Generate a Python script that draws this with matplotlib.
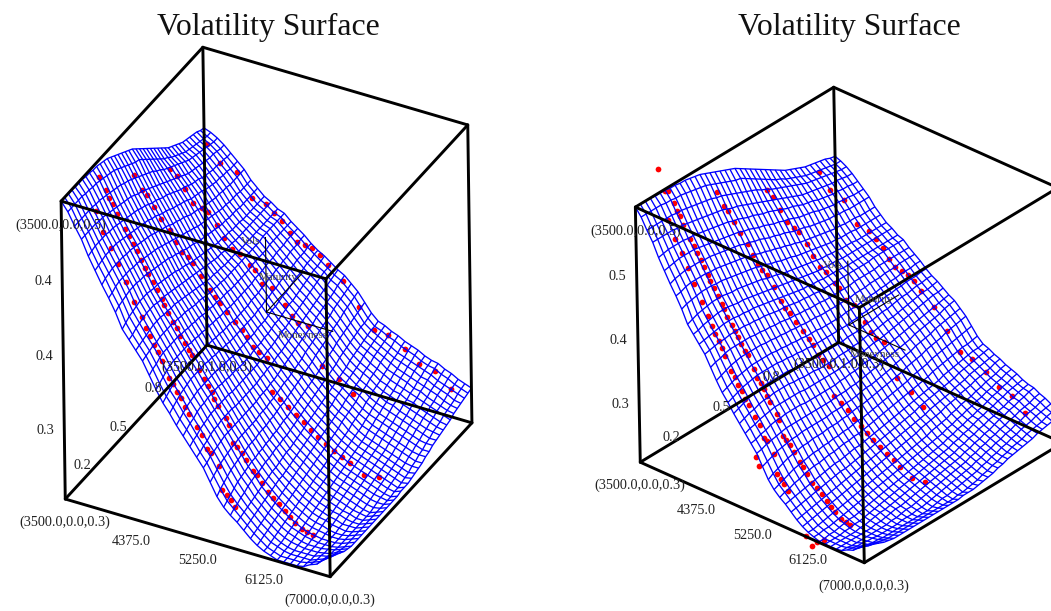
import numpy as np
import matplotlib
matplotlib.use('Agg')
import matplotlib.pyplot as plt
from matplotlib.transforms import offset_copy

plt.rcParams['font.family'] = ['Liberation Serif', 'DejaVu Serif']

# superficie: filas = strike, columnas = maturity (vol x 1000)
surface_vol = [
    [500,500,500,500,499,499,499,498,498,497,497,496,495,494,492,490,488,486,484,482,480,477,474,471,468,465,462,459,456,453,450,448,446,444,442,441,440,439,438,436,435],
    [493,493,493,493,493,492,492,491,491,490,489,488,487,486,484,482,480,478,476,474,473,470,467,464,461,458,455,452,450,447,445,443,441,439,438,437,436,435,434,433,433],
    [483,483,483,483,483,483,482,482,481,480,479,478,477,476,474,473,471,469,467,465,463,461,459,456,454,451,449,447,445,443,441,439,437,436,435,434,433,432,431,430,430],
    [474,474,474,474,474,473,473,472,471,470,469,468,467,466,465,463,461,460,458,456,454,452,450,448,446,444,442,440,438,436,434,433,432,431,430,429,428,428,427,426,426],
    [462,463,464,464,464,464,463,463,462,461,460,459,458,457,456,454,453,451,449,448,446,444,443,441,439,437,435,434,432,430,429,428,426,425,424,423,423,422,422,421,421],
    [452,453,454,455,455,455,455,454,453,452,451,450,449,448,447,446,444,443,441,439,438,436,434,433,431,430,428,426,425,424,423,421,420,419,418,418,417,417,416,416,416],
    [442,444,445,446,446,446,446,445,445,444,443,442,441,440,439,437,436,434,433,431,429,428,426,425,423,421,420,419,417,416,415,414,413,413,412,412,411,411,411,411,411],
    [433,434,436,437,437,437,437,436,436,435,434,433,432,431,430,428,427,425,424,422,421,419,418,416,415,413,412,411,410,409,408,407,406,406,405,405,405,404,404,404,404],
    [423,425,426,427,428,428,428,427,427,426,425,424,423,422,421,420,418,417,415,414,412,411,410,408,407,406,405,404,403,402,401,401,400,400,400,399,399,399,399,399,399],
    [411,413,415,416,417,418,418,418,417,416,416,415,414,413,412,411,409,408,407,405,404,403,402,401,400,399,398,397,397,396,396,395,395,395,394,394,394,394,394,394,394],
    [404,405,407,408,409,410,410,410,409,408,408,407,406,405,404,403,402,401,400,399,398,397,396,395,394,393,393,392,392,392,391,391,391,391,391,391,391,391,391,391,391],
    [397,398,399,400,401,402,402,402,401,401,400,400,399,398,397,396,395,394,393,392,391,390,390,389,389,388,388,388,388,387,387,387,387,387,387,387,387,387,387,387,387],
    [390,391,392,393,393,394,394,394,394,393,393,392,392,391,390,389,389,388,387,386,386,385,385,384,384,384,384,384,384,384,384,384,384,384,385,385,385,385,385,385,385],
    [380,382,383,385,386,386,386,386,386,385,385,384,384,383,383,382,381,381,380,380,379,379,379,378,378,378,378,378,378,379,379,379,379,379,380,380,380,380,380,380,380],
    [370,372,374,376,377,378,378,378,378,378,377,377,376,376,375,375,374,374,373,373,373,372,372,372,372,372,372,372,373,373,373,374,374,374,375,375,375,376,376,376,376],
    [361,363,365,367,368,369,370,370,370,370,370,369,369,368,368,367,367,366,366,366,365,365,365,365,365,366,366,366,367,367,368,368,369,369,370,370,371,371,371,372,372],
    [354,356,358,360,361,362,363,363,363,363,363,362,362,361,361,360,360,359,359,359,359,359,359,359,359,360,360,361,361,362,362,363,364,364,365,365,366,366,366,367,367],
    [346,348,350,352,353,354,355,355,355,355,355,355,354,354,353,353,352,352,352,352,352,352,352,353,353,353,354,355,355,356,357,357,358,359,360,360,361,362,362,363,363],
    [339,341,343,344,346,347,347,348,348,348,348,347,347,346,346,346,345,345,345,345,346,346,346,347,347,348,349,349,350,351,352,352,353,354,355,356,357,358,358,359,360],
    [332,334,335,337,338,339,340,340,340,340,340,340,339,339,339,339,339,339,339,339,340,340,341,341,342,343,344,344,345,346,347,348,349,350,351,352,353,354,355,355,356],
    [325,326,328,329,331,332,332,333,333,333,333,332,332,332,332,332,332,332,333,333,334,334,335,336,336,337,338,339,340,341,342,343,344,345,346,347,348,349,350,351,352],
    [318,319,321,322,323,324,325,325,325,325,325,325,325,325,325,325,326,326,326,327,327,328,329,330,331,332,333,334,335,336,337,338,340,341,342,343,344,345,347,348,349],
    [308,310,312,314,315,316,317,317,318,318,318,318,318,318,319,319,319,320,320,321,322,323,323,324,325,326,327,329,330,331,332,334,335,336,337,339,340,341,342,343,344],
    [298,301,303,305,307,308,309,310,310,311,311,311,312,312,312,313,313,314,315,315,316,317,318,319,320,321,322,323,325,326,327,328,330,331,332,333,335,336,337,338,339],
    [291,293,295,297,299,300,301,302,303,303,304,304,305,305,306,306,307,308,308,309,310,311,312,313,314,315,316,317,319,320,321,322,324,325,326,327,328,329,330,331,332],
    [286,288,289,291,292,294,295,296,296,297,298,298,299,300,300,301,301,302,303,304,305,306,307,308,309,310,311,312,313,314,315,317,318,319,320,321,322,323,323,324,325],
    [282,283,284,285,286,287,288,289,290,291,292,292,293,294,295,295,296,297,298,299,300,301,302,303,304,305,306,307,308,309,310,311,313,314,315,316,317,318,319,319,320],
    [277,278,279,280,281,282,283,284,285,286,287,287,288,289,290,291,292,293,294,295,296,297,298,299,300,301,303,304,305,306,307,308,309,310,312,313,314,315,316,317,318],
    [272,273,274,275,276,277,278,279,280,281,282,283,284,285,286,287,288,289,290,291,292,293,294,295,296,297,298,300,301,302,303,304,306,307,308,310,311,312,313,314,315],
    [268,269,270,271,272,273,274,275,276,277,278,279,280,281,282,283,284,285,286,287,288,289,290,291,293,294,295,296,297,299,300,301,303,304,305,307,308,309,310,312,313],
    [265,265,266,267,268,269,270,271,272,273,274,275,276,277,278,279,280,281,282,283,284,285,286,287,288,290,291,292,293,295,296,298,299,300,302,303,305,306,307,309,310],
    [263,263,264,264,265,266,267,268,269,270,271,272,273,274,275,276,277,278,279,280,281,282,283,284,285,286,287,289,290,292,293,295,296,298,299,301,302,304,305,307,308],
    [261,261,262,262,263,264,265,265,266,267,268,269,270,271,272,273,274,275,276,277,278,279,280,281,282,283,285,286,288,289,291,292,294,295,297,299,300,302,303,305,306],
    [261,261,261,261,262,262,263,263,264,265,266,267,268,269,270,271,272,273,274,275,276,277,278,279,280,281,283,284,286,287,289,291,292,294,295,297,298,300,301,302,303],
    [261,261,261,261,261,261,262,262,263,264,265,265,266,267,268,269,270,271,272,273,274,275,276,277,278,279,281,282,284,285,287,288,290,291,293,294,296,297,299,300,301],
    [261,261,261,261,261,261,261,261,262,262,263,264,265,265,266,267,268,269,270,271,272,273,274,275,276,277,279,280,282,283,285,286,288,290,291,293,294,296,297,299,300],
    [262,262,261,261,261,261,261,261,261,261,262,262,263,264,264,265,266,267,268,269,270,271,272,273,274,275,277,278,280,281,283,284,286,287,289,290,292,293,294,296,297],
    [265,264,263,263,262,262,261,261,261,261,261,262,262,262,263,263,264,265,266,267,268,269,270,271,272,273,275,276,278,279,281,282,284,285,287,288,290,291,292,294,295],
    [267,266,265,264,263,263,262,262,262,262,262,262,262,262,262,262,263,264,265,265,266,267,268,269,270,271,273,274,276,277,279,280,282,283,285,286,287,289,290,291,292],
    [272,270,268,267,266,265,264,264,264,264,264,264,264,264,264,264,264,264,264,264,265,265,266,267,268,270,271,273,274,276,277,279,280,281,283,284,285,286,288,289,290],
    [277,274,272,270,268,267,266,266,266,266,266,266,266,266,266,266,266,266,266,266,267,267,267,268,269,270,271,273,274,276,277,278,279,280,281,283,284,285,286,287,288],
]

# puntos de mercado por maturity (strike, vol x 1000)
mat_a2 = 0.05
strikes_a2 = [3860, 3955, 4064, 4148, 4249, 4358, 4459, 4512, 4557, 4613, 4666, 4715, 4806, 4858, 4911, 4963, 5012, 5065, 5166, 5233, 5296, 5348, 5453, 5488, 5551, 5607, 5660]
vols_a2 = [492, 477, 466, 455, 442, 428, 418, 410, 404, 398, 393, 387, 375, 371, 365, 361, 355, 350, 342, 336, 326, 324, 315, 297, 294, 291, 286]
mat_a = 0.01
strikes_a = [3990, 4081, 4116, 4165, 4218, 4326, 4379, 4428, 4480, 4533, 4585, 4624, 4690, 4739, 4806, 4830, 4879, 4949, 4998, 5040, 5093, 5145, 5191, 5285, 5338, 5390, 5443, 5478, 5530, 5635, 5670, 5723, 5772, 5835, 5891, 5978, 6027, 6094, 6174, 6241, 6318, 6395, 6461, 6528, 6619, 6685, 6762]
vols_a = [527, 518, 512, 508, 501, 491, 486, 481, 476, 470, 464, 460, 455, 449, 443, 439, 433, 427, 423, 418, 413, 408, 405, 395, 388, 384, 380, 375, 370, 362, 357, 344, 341, 338, 333, 326, 323, 318, 312, 309, 305, 301, 297, 294, 290, 289, 288]
mat_b = 0.25
strikes_b = [3994, 4102, 4165, 4256, 4347, 4466, 4543, 4617, 4690, 4764, 4862, 4984, 5044, 5110, 5205, 5310, 5401, 5467, 5548, 5614, 5719, 5782, 5887, 5992, 6097, 6202, 6297, 6388, 6493, 6601, 6703, 6808, 6993, 7186]
vols_b = [499, 489, 486, 478, 470, 463, 455, 448, 445, 442, 433, 424, 419, 416, 410, 404, 399, 395, 388, 385, 382, 356, 352, 348, 343, 339, 335, 331, 327, 323, 320, 317, 311, 313]
mat_c = 0.505
strikes_c = [3983, 4074, 4179, 4284, 4403, 4480, 4596, 4687, 4792, 4893, 5026, 5093, 5187, 5320, 5488, 5579, 5653, 5782, 5971, 6185, 6370]
vols_c = [472, 468, 459, 450, 448, 446, 438, 429, 422, 420, 413, 410, 401, 400, 389, 382, 378, 378, 349, 342, 333]
mat_d = 0.76
strikes_d = [3994, 4162, 4386, 4582, 4767, 4872, 4981, 5075, 5170, 5275, 5366, 5471, 5572, 5768, 5978, 6171, 6356, 6580, 6766, 6976, 7182]
vols_d = [461, 448, 445, 428, 426, 421, 416, 408, 403, 402, 401, 398, 391, 382, 365, 350, 349, 342, 333, 331, 320]

# solo en el panel derecho
strikes_out = [3868, 3973, 5320, 5369, 6083, 6178, 6265, 6370]
vols_out = [546, 528, 314, 307, 260, 254, 260, 264]

x_labels = ['4375.0', '5250.0', '6125.0']
y_labels = ['0.2', '0.5', '0.8']
z_labels_left = ['0.3', '0.4', '0.4']
z_labels_right = ['0.3', '0.4', '0.5']

X0, X1 = 3500, 7000
Y0, Y1 = 0, 1
Z0, Z1 = 0.26, 0.50
W = 800

fig = plt.figure(figsize=(10.51, 6.11), dpi=100)


def label(ax, x, y, z, s, dx, dy, **kw):
    tr = offset_copy(ax.transData, fig=fig, x=dx, y=dy, units='dots')
    ax.text(x, y, z, s, transform=tr, ha=kw.pop('ha', 'center'), va='center', zdir=None,
            fontsize=kw.pop('fontsize', 10.3), color=kw.pop('color', '#222222'), zorder=4, **kw)


def panel(cx, cy, elev, azim, roll, aspect, zoom, z_labels, outliers):
    rect = [(cx - 0.5135 * W) / 1051, (611 - cy - 0.5135 * W) / 611, W / 1051, W / 611]
    ax = fig.add_axes(rect, projection='3d', computed_zorder=False)
    ax.set_proj_type('ortho')
    ax.view_init(elev=elev, azim=azim, roll=roll)
    ax.set_box_aspect(aspect, zoom=zoom)
    ax.set_xlim(X0, X1, view_margin=0)
    ax.set_ylim(Y0, Y1, view_margin=0)
    ax.set_zlim(Z0, Z1, view_margin=0)
    ax.set_axis_off()
    ax.patch.set_alpha(0)

    vols = np.array(surface_vol) / 1000
    strikes = np.linspace(X0, X1, vols.shape[0])
    mats = np.linspace(Y0, Y1, vols.shape[1])
    S, M = np.meshgrid(strikes, mats, indexing='ij')
    ax.plot_wireframe(S, M, vols, rstride=1, cstride=1, color='#0000ff', linewidth=0.95, zorder=2)

    for m, st, vl in [(mat_a2, strikes_a2, vols_a2), (mat_a, strikes_a, vols_a), (mat_b, strikes_b, vols_b),
                      (mat_c, strikes_c, vols_c), (mat_d, strikes_d, vols_d)]:
        ax.scatter(st, [m] * len(st), np.array(vl) / 1000, s=17, c='#ff0000', linewidths=0, depthshade=False, zorder=1)
    if outliers:
        ax.scatter(strikes_out, [0] * len(strikes_out), np.array(vols_out) / 1000, s=17, c='#ff0000',
                   linewidths=0, depthshade=False, zorder=1)

    # caja
    edges = [((X0, X1), (Y0, Y0), (Z0, Z0)), ((X0, X1), (Y1, Y1), (Z0, Z0)), ((X0, X0), (Y0, Y1), (Z0, Z0)),
             ((X1, X1), (Y0, Y1), (Z0, Z0)), ((X0, X1), (Y0, Y0), (Z1, Z1)), ((X0, X1), (Y1, Y1), (Z1, Z1)),
             ((X0, X0), (Y0, Y1), (Z1, Z1)), ((X1, X1), (Y0, Y1), (Z1, Z1)), ((X0, X0), (Y0, Y0), (Z0, Z1)),
             ((X1, X1), (Y0, Y0), (Z0, Z1)), ((X0, X0), (Y1, Y1), (Z0, Z1)), ((X1, X1), (Y1, Y1), (Z0, Z1))]
    for ex, ey, ez in edges:
        ax.plot(ex, ey, ez, color='black', linewidth=2.1, zorder=3, solid_capstyle='round')

    # triedro central
    xc, yc, zc = (X0 + X1) / 2, (Y0 + Y1) / 2, (Z0 + Z1) / 2
    xe, ye, ze = xc + (X1 - X0) / 4, yc + (Y1 - Y0) / 4, zc + (Z1 - Z0) / 4
    ax.plot((xc, xe), (yc, yc), (zc, zc), color='black', linewidth=0.8, zorder=3)
    ax.plot((xc, xc), (yc, ye), (zc, zc), color='black', linewidth=0.8, zorder=3)
    ax.plot((xc, xc), (yc, yc), (zc, ze), color='black', linewidth=0.8, zorder=3)
    label(ax, xe, yc, zc, 'Moneyness', -5, -4, ha='right', fontsize=7.9, color='#444444')
    label(ax, xc, ye, zc, 'Maturity', -5, -4, ha='right', fontsize=7.9, color='#444444')
    label(ax, xc, yc, ze, 'Vols', -5, -4, ha='right', fontsize=7.9, color='#444444')

    # etiquetas
    label(ax, X0, Y0, Z0, '(3500.0,0.0,0.3)', 0, -23)
    label(ax, X1, Y0, Z0, '(7000.0,0.0,0.3)', 0, -24)
    label(ax, X0, Y1, Z0, '(3500.0,1.0,0.3)', 0, -22)
    label(ax, X0, Y0, Z1, '(3500.0,0.0,0.5)', 0, -24)
    for i, s in enumerate(x_labels):
        label(ax, X0 + (X1 - X0) * (i + 1) / 4, Y0, Z0, s, 0, -23)
    for i, s in enumerate(y_labels):
        label(ax, X0, Y0 + (Y1 - Y0) * (i + 1) / 4, Z0, s, -18, -5)
    for i, s in enumerate(z_labels):
        label(ax, X0, Y0, Z0 + (Z1 - Z0) * (i + 1) / 4, s, -19, -6)


panel(266.5, 312, 34.8, -61.6, 0.8, (0.8265, 0.8339, 1), 0.679, z_labels_left, False)
panel(849, 325, 31.5, -47.9, 1.1, (1, 1, 1), 0.629, z_labels_right, True)

fig.text(268 / 1051, 1 - 27 / 611, 'Volatility Surface', ha='center', va='center', fontsize=22.9, color='#111111')
fig.text(849 / 1051, 1 - 27 / 611, 'Volatility Surface', ha='center', va='center', fontsize=22.9, color='#111111')

fig.savefig('out.png', dpi=100)
